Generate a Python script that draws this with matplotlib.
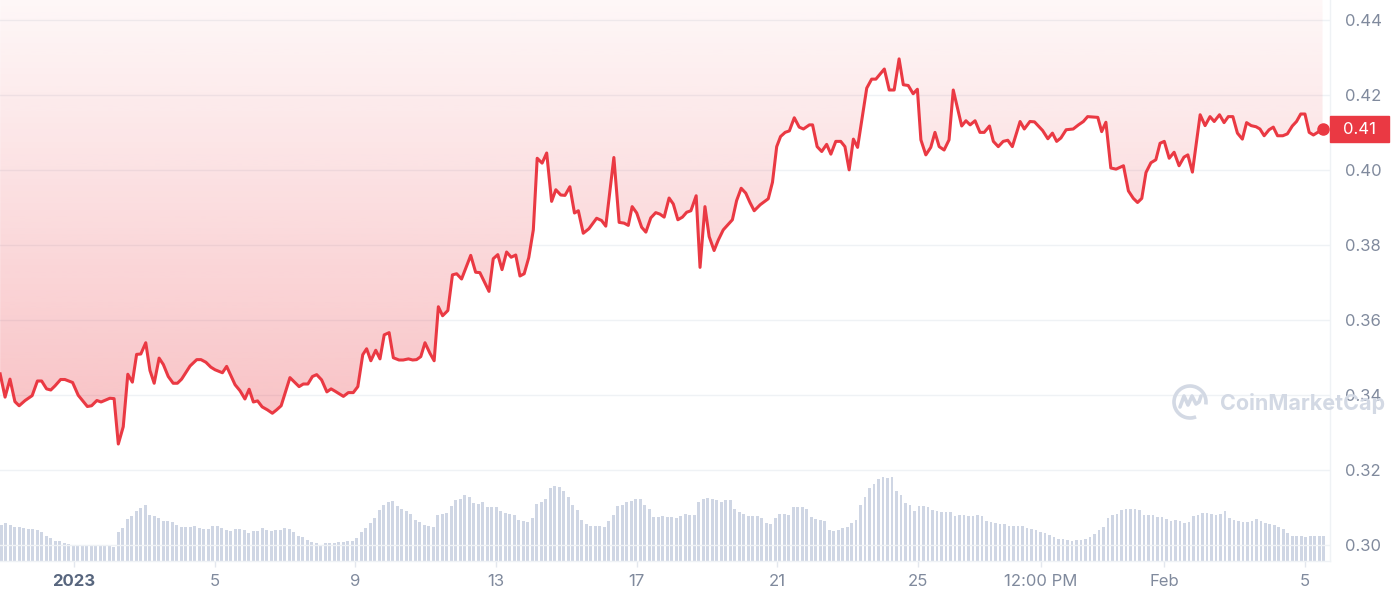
import numpy as np
import matplotlib
matplotlib.use('Agg')
import matplotlib.pyplot as plt
import matplotlib.transforms as mtransforms
from matplotlib.patches import Rectangle, Arc
from matplotlib.lines import Line2D
from matplotlib.colors import to_rgb

plt.rcParams['font.family'] = ['Inter', 'DejaVu Sans']

# price (USD), time in days since 2023-01-01 00:00
price_day = [-2.10, -1.96, -1.82, -1.68, -1.56, -1.39, -1.19, -1.04, -0.92, -0.78,
             -0.66, -0.54, -0.38, -0.26, -0.04, 0.12, 0.38, 0.50, 0.65, 0.77,
             1.02, 1.14, 1.26, 1.40, 1.53, 1.66, 1.78, 1.90, 2.04, 2.16,
             2.28, 2.42, 2.54, 2.68, 2.82, 2.94, 3.06, 3.30, 3.49, 3.61,
             3.75, 3.89, 4.01, 4.22, 4.34, 4.58, 4.72, 4.86, 4.98, 5.10,
             5.22, 5.35, 5.50, 5.64, 5.76, 5.89, 6.14, 6.26, 6.40, 6.52,
             6.65, 6.78, 6.90, 7.04, 7.19, 7.31, 7.42, 7.66, 7.80, 7.94,
             8.07, 8.21, 8.32, 8.44, 8.58, 8.70, 8.82, 8.96, 9.08, 9.24,
             9.36, 9.51, 9.63, 9.74, 9.86, 9.98, 10.12, 10.24, 10.36, 10.48,
             10.63, 10.76, 10.88, 11.02, 11.28, 11.42, 11.54, 11.80, 11.92, 12.05,
             12.17, 12.30, 12.43, 12.56, 12.68, 12.80, 12.93, 13.06, 13.17, 13.31,
             13.44, 13.58, 13.70, 13.84, 13.96, 14.10, 14.23, 14.34, 14.48, 14.64,
             14.86, 15.00, 15.12, 15.35, 15.50, 15.64, 15.76, 15.87, 16.00, 16.14,
             16.26, 16.40, 16.54, 16.66, 16.78, 16.92, 17.04, 17.17, 17.30, 17.42,
             17.54, 17.69, 17.80, 17.94, 18.06, 18.20, 18.32, 18.46, 18.72, 18.84,
             18.97, 19.10, 19.22, 19.34, 19.51, 19.74, 19.86, 19.98, 20.09, 20.22,
             20.34, 20.48, 20.62, 20.74, 20.91, 21.00, 21.13, 21.26, 21.40, 21.52,
             21.66, 21.80, 21.92, 22.04, 22.16, 22.28, 22.40, 22.54, 22.68, 22.80,
             23.04, 23.18, 23.32, 23.46, 23.58, 23.72, 23.86, 23.98, 24.08, 24.22,
             24.36, 24.48, 24.60, 24.74, 24.88, 25.00, 25.24, 25.36, 25.48, 25.62,
             25.76, 25.88, 26.03, 26.14, 26.28, 26.42, 26.55, 26.68, 26.90, 27.02,
             27.18, 27.31, 27.54, 27.69, 27.82, 27.94, 28.06, 28.21, 28.41, 28.56,
             28.70, 28.82, 28.97, 29.11, 29.22, 29.34, 29.48, 29.63, 29.84, 29.98,
             30.12, 30.24, 30.36, 30.48, 30.62, 30.76, 30.88, 31.00, 31.14, 31.28,
             31.42, 31.56, 31.67, 31.80, 32.02, 32.16, 32.30, 32.42, 32.57, 32.70,
             32.82, 32.95, 33.08, 33.22, 33.34, 33.47, 33.61, 33.72, 33.84, 33.98,
             34.10, 34.22, 34.37, 34.50, 34.64, 34.76, 34.88, 35.00, 35.12, 35.24,
             35.36, 35.50]
price = [0.3456, 0.3394, 0.3442, 0.3382, 0.3371, 0.3385, 0.3398, 0.3437, 0.3437, 0.3416,
         0.3413, 0.3424, 0.3441, 0.3441, 0.3433, 0.3399, 0.3369, 0.3371, 0.3385, 0.3381,
         0.3391, 0.3390, 0.3269, 0.3315, 0.3455, 0.3434, 0.3508, 0.3509, 0.3539, 0.3465,
         0.3431, 0.3498, 0.3481, 0.3449, 0.3431, 0.3431, 0.3442, 0.3477, 0.3494, 0.3494,
         0.3487, 0.3474, 0.3467, 0.3459, 0.3476, 0.3427, 0.3411, 0.3389, 0.3415, 0.3381,
         0.3384, 0.3368, 0.3360, 0.3351, 0.3360, 0.3371, 0.3446, 0.3435, 0.3422, 0.3429,
         0.3429, 0.3449, 0.3454, 0.3440, 0.3408, 0.3416, 0.3410, 0.3396, 0.3406, 0.3406,
         0.3422, 0.3507, 0.3523, 0.3491, 0.3519, 0.3496, 0.3560, 0.3566, 0.3499, 0.3493,
         0.3493, 0.3496, 0.3493, 0.3494, 0.3502, 0.3539, 0.3511, 0.3491, 0.3635, 0.3611,
         0.3625, 0.3720, 0.3723, 0.3709, 0.3772, 0.3727, 0.3726, 0.3676, 0.3763, 0.3774,
         0.3734, 0.3781, 0.3767, 0.3773, 0.3717, 0.3723, 0.3766, 0.3840, 0.4031, 0.4018,
         0.4045, 0.3916, 0.3947, 0.3933, 0.3932, 0.3955, 0.3885, 0.3891, 0.3831, 0.3843,
         0.3871, 0.3865, 0.3850, 0.4033, 0.3860, 0.3858, 0.3852, 0.3902, 0.3885, 0.3847,
         0.3834, 0.3872, 0.3886, 0.3882, 0.3874, 0.3925, 0.3909, 0.3867, 0.3874, 0.3887,
         0.3891, 0.3931, 0.3740, 0.3902, 0.3822, 0.3785, 0.3813, 0.3840, 0.3867, 0.3918,
         0.3951, 0.3938, 0.3913, 0.3891, 0.3907, 0.3923, 0.3967, 0.4062, 0.4089, 0.4100,
         0.4104, 0.4139, 0.4114, 0.4109, 0.4120, 0.4120, 0.4062, 0.4049, 0.4068, 0.4042,
         0.4076, 0.4076, 0.4062, 0.4000, 0.4082, 0.4060, 0.4133, 0.4218, 0.4242, 0.4242,
         0.4269, 0.4213, 0.4213, 0.4296, 0.4227, 0.4225, 0.4203, 0.4215, 0.4080, 0.4040,
         0.4060, 0.4100, 0.4062, 0.4053, 0.4080, 0.4213, 0.4117, 0.4131, 0.4120, 0.4131,
         0.4100, 0.4100, 0.4117, 0.4076, 0.4062, 0.4076, 0.4079, 0.4062, 0.4129, 0.4109,
         0.4129, 0.4128, 0.4105, 0.4083, 0.4098, 0.4076, 0.4085, 0.4107, 0.4109, 0.4120,
         0.4129, 0.4142, 0.4141, 0.4140, 0.4102, 0.4127, 0.4005, 0.4002, 0.4011, 0.3944,
         0.3924, 0.3913, 0.3924, 0.3993, 0.4019, 0.4027, 0.4071, 0.4076, 0.4031, 0.4047,
         0.4011, 0.4034, 0.4040, 0.3994, 0.4147, 0.4118, 0.4142, 0.4129, 0.4147, 0.4126,
         0.4142, 0.4142, 0.4098, 0.4082, 0.4126, 0.4118, 0.4115, 0.4109, 0.4091, 0.4107,
         0.4114, 0.4091, 0.4091, 0.4096, 0.4117, 0.4129, 0.4149, 0.4149, 0.4100, 0.4093,
         0.4100, 0.4109]

# volume (relative units), one bar per ~3 h from first to last day
vol_first_day = -2.07
vol_last_day = 35.54
volume = [36, 38, 36, 34, 34, 33.3, 32.3, 32.3, 31, 28.7, 25.3, 23, 20, 20, 17.7, 16.7,
          15.3, 15.3, 15.3, 16, 16, 15.3, 15.3, 15.3, 15.3, 14.3, 29, 33, 42, 45, 50, 53,
          56, 46, 45, 43, 40, 40, 39, 36.3, 34.3, 34, 34, 35, 33, 32, 32, 35, 35, 33, 31,
          30, 32, 32, 31, 28, 30, 30, 33, 31, 30, 31, 31, 33, 32, 29, 25, 24, 21, 19, 17.7,
          16, 18, 18, 18, 19,
          19, 20, 20, 23, 29, 33, 38, 43, 51, 56, 59, 60, 55, 52, 50, 47, 41, 39, 36, 35,
          34, 46, 47, 48, 55, 61, 62, 66, 64, 58, 57, 59, 54, 54, 54, 50, 48, 47, 46, 41,
          40, 39, 43, 57, 59, 62, 73, 75, 74, 70, 64, 56, 51, 41, 37, 35, 35, 35, 34, 40,
          46, 55, 56, 59, 60, 62, 62, 56, 52, 44, 44, 45, 44,
          43.7, 43, 44.7, 46.7, 45.7, 45.7, 58.7, 62, 63, 62, 61, 59, 61, 61, 52, 49, 47,
          45, 45, 45, 43, 38, 37, 43, 46.7, 46.7, 46, 54, 54, 54, 52, 44, 42, 41, 40, 31,
          30, 31, 33, 34, 38, 41, 56, 64, 73, 77, 82, 84, 83, 84, 70, 66, 58, 56, 50, 55,
          55, 54, 51, 50, 49, 49, 49, 45, 46, 46, 45, 45, 46, 45, 40, 39, 38,
          37, 37, 35, 35, 35, 35, 33, 32, 31, 29, 28, 26, 24, 22, 22, 21, 20, 21, 21, 22,
          24, 27, 31, 34, 43, 46, 47, 51, 52, 52, 52, 51, 46, 46, 46, 44, 44, 42, 40, 41,
          40, 38, 39, 45, 46, 48, 48, 47, 46, 47, 50, 43, 41, 40, 39, 39, 40, 42, 40, 38,
          37, 36, 34, 32, 28, 25, 25, 25, 24, 25, 25, 25, 25]

y_ticks = [0.30, 0.32, 0.34, 0.36, 0.38, 0.40, 0.42, 0.44]
x_tick_days = [0, 4, 8, 12, 16, 20, 24, 27.5, 31, 35]
x_tick_labels = ['2023', '5', '9', '13', '17', '21', '25', '12:00 PM', 'Feb', '5']

RED = '#ea3943'
GRID = '#eff2f5'
LABEL = '#808a9d'
BAR = '#cfd6e4'
WM = '#d3d9e4'

W, H = 1393, 600
ylo, yhi = 0.2957, 0.4453
xlo, xhi = -2.104, 35.712


def main():
    fig = plt.figure(figsize=(W / 100, H / 100), dpi=100)
    rect = [0, 39 / H, 1330 / W, 561 / H]

    # volume bars, behind the price axes
    axv = fig.add_axes(rect)
    vol_day = np.linspace(vol_first_day, vol_last_day, len(volume))
    step = vol_day[1] - vol_day[0]
    axv.bar(vol_day, volume, width=0.65 * step, color=BAR, linewidth=0)
    axv.set_xlim(xlo, xhi)
    axv.set_ylim(0, max(volume) / 0.15)
    axv.axis('off')

    ax = fig.add_axes(rect)
    ax.patch.set_visible(False)
    ax.set_zorder(2)

    # gradient fill between price line and top of the chart
    poly = ax.fill_between(price_day, price, yhi, facecolor='none', edgecolor='none')
    yy = np.linspace(ylo, yhi, 256)
    alpha = 0.04 + 0.25 * (yhi - yy) / (yhi - 0.34)
    rgba = np.zeros((256, 1, 4))
    rgba[:, 0, :3] = to_rgb(RED)
    rgba[:, 0, 3] = np.clip(alpha, 0, 1)
    im = ax.imshow(rgba, extent=[price_day[0], price_day[-1], ylo, yhi], origin='lower',
                   aspect='auto', interpolation='bilinear', zorder=1)
    im.set_clip_path(poly.get_paths()[0], transform=ax.transData)

    ax.plot(price_day, price, color=RED, lw=2.2, zorder=3, solid_joinstyle='round')
    ax.plot(price_day[-1], price[-1], 'o', ms=8, color=RED, zorder=4)

    ax.set_xlim(xlo, xhi)
    ax.set_ylim(ylo, yhi)

    ax.grid(axis='y', color=GRID, lw=1, zorder=0)
    ax.set_axisbelow(True)
    for s in ['top', 'left']:
        ax.spines[s].set_visible(False)
    for s in ['right', 'bottom']:
        ax.spines[s].set_color(GRID)
        ax.spines[s].set_linewidth(1)

    ax.yaxis.tick_right()
    ax.set_yticks(y_ticks, [f'{v:.2f}' for v in y_ticks])
    ax.tick_params(axis='y', length=0, pad=11, labelsize=12, labelcolor=LABEL)
    ax.set_xticks(x_tick_days, x_tick_labels)
    ax.tick_params(axis='x', length=4, width=1, color='#e3e7ee', pad=5,
                   labelsize=12, labelcolor=LABEL)
    first = ax.get_xticklabels()[0]
    first.set_fontweight('bold')
    first.set_color('#58667e')

    # last price tag
    trans = mtransforms.blended_transform_factory(ax.transAxes, ax.transData)
    box_h = 26 / 3750
    ax.add_patch(Rectangle((1.0, price[-1] - box_h / 2), 59 / 1330, box_h, transform=trans,
                           color=RED, clip_on=False, zorder=5))
    ax.text(1.0 + 29.5 / 1330, price[-1], f'{price[-1]:.2f}', transform=trans,
            ha='center', va='center', color='white', fontsize=12, zorder=6)

    # CoinMarketCap watermark
    def px(x, y):
        return x / W, 1 - y / H
    cx, cy = px(1190, 402)
    fig.add_artist(Arc((cx, cy), 32 / W, 32 / H, theta1=-20, theta2=280,
                       color=WM, lw=2.6, transform=fig.transFigure, zorder=10))
    mx = [1180, 1184, 1188, 1192, 1196, 1199, 1201]
    my = [407, 396, 405, 396, 404, 402, 396]
    pts = [px(a, b) for a, b in zip(mx, my)]
    fig.add_artist(Line2D([p[0] for p in pts], [p[1] for p in pts], color=WM, lw=2.6,
                          solid_joinstyle='round', solid_capstyle='round',
                          transform=fig.transFigure, zorder=10))
    fig.text(1220 / W, 1 - 403 / H, 'CoinMarketCap', fontsize=15.5, fontweight='bold',
             color=WM, ha='left', va='center', zorder=10)

    fig.savefig('out.png', dpi=100)


if __name__ == '__main__':
    main()
